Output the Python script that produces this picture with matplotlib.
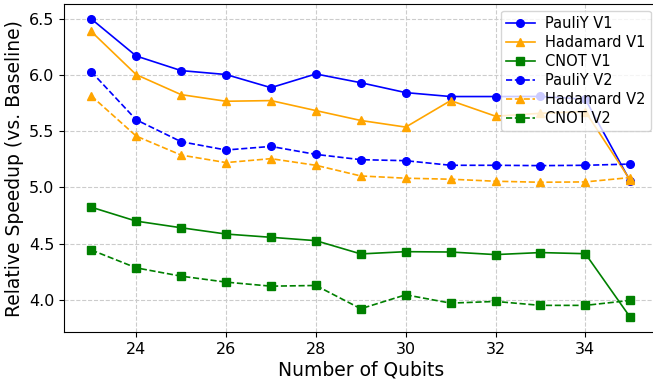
import matplotlib
matplotlib.use("Agg")
import matplotlib.pyplot as plt

qubits = list(range(23, 36))
pauliy_v1 = [6.50, 6.17, 6.04, 6.005, 5.888, 6.01, 5.932, 5.844, 5.809, 5.809, 5.81, 5.785, 5.055]
hadamard_v1 = [6.388, 6.004, 5.826, 5.767, 5.773, 5.684, 5.596, 5.537, 5.773, 5.634, 5.66, 5.675, 5.064]
cnot_v1 = [4.824, 4.70, 4.641, 4.585, 4.556, 4.526, 4.408, 4.428, 4.425, 4.402, 4.42, 4.41, 3.843]
pauliy_v2 = [6.03, 5.602, 5.407, 5.333, 5.365, 5.294, 5.247, 5.238, 5.197, 5.197, 5.194, 5.197, 5.208]
hadamard_v2 = [5.815, 5.457, 5.288, 5.221, 5.256, 5.197, 5.102, 5.082, 5.073, 5.055, 5.046, 5.049, 5.088]
cnot_v2 = [4.443, 4.284, 4.21, 4.157, 4.121, 4.127, 3.92, 4.044, 3.97, 3.985, 3.95, 3.95, 3.994]

fig = plt.figure(figsize=(6.53, 3.84), dpi=100)
ax = fig.add_axes([0.0985, 0.1346, 0.908, 0.855])

ms = 5.5
ax.plot(qubits, pauliy_v1, color="blue", marker="o", ms=ms, lw=1.2, label="PauliY V1")
ax.plot(qubits, hadamard_v1, color="orange", marker="^", ms=ms, lw=1.2, label="Hadamard V1")
ax.plot(qubits, cnot_v1, color="green", marker="s", ms=ms, lw=1.2, label="CNOT V1")
ax.plot(qubits, pauliy_v2, color="blue", marker="o", ms=ms, lw=1.2, ls="--", label="PauliY V2")
ax.plot(qubits, hadamard_v2, color="orange", marker="^", ms=ms, lw=1.2, ls="--", label="Hadamard V2")
ax.plot(qubits, cnot_v2, color="green", marker="s", ms=ms, lw=1.2, ls="--", label="CNOT V2")

ax.set_xticks([24, 26, 28, 30, 32, 34])
ax.set_yticks([4.0, 4.5, 5.0, 5.5, 6.0, 6.5])
ax.tick_params(labelsize=11.5)
ax.set_xlabel("Number of Qubits", fontsize=13.5, labelpad=2.5)
ax.set_ylabel("Relative Speedup (vs. Baseline)", fontsize=13.5)
ax.grid(True, ls="--", color="#cccccc", lw=0.8)
ax.legend(loc="upper right", fontsize=10.5, framealpha=0.8, labelspacing=0.28,
          borderpad=0.35, handletextpad=0.7, borderaxespad=0.45)

fig.savefig("out.png", dpi=100)
